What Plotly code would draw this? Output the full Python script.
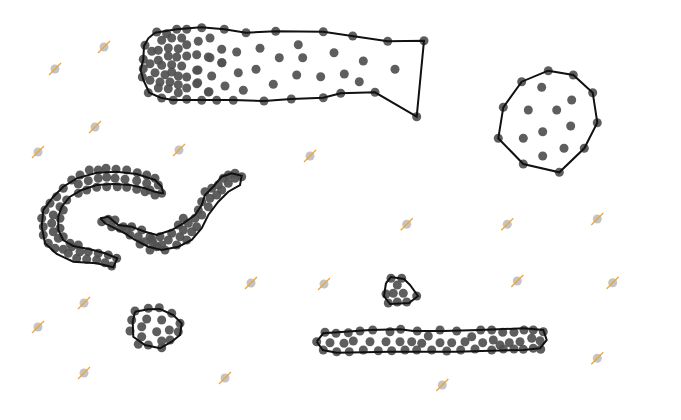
import plotly.graph_objects as go

# ---- data (pixel-like coordinate space: x 0..681, y 0..420 downwards) ----
a_x = [156.7,166.7,176.7,186.7,201.7,224.3,161.7,171.7,181.7,186.7,198.3,210,145,151.7,158.3,168.3,178.3,
       168.3,176.7,186.7,196.7,208.3,221.7,236.7,143.3,150,158.3,161.7,171.7,181.7,221.7,143.3,155,165,171.7,
       178.3,186.7,196.7,211.7,238.3,142.3,150,160,170,178.3,196.7,225,148.3,158.3,168.3,178.3,186.7,208.3,
       161.7,173.3,186.7,201.7,216.7,233.3,243.3,
       298.3,260,279.3,302.7,334,363.3,395,256,296.7,320.7,344.3,359.3,273.3,
       246,275.7,323.3,352.7,387.7,424,416.7,375,340.7,323.3,291.3,264,197.7,209,222,198,210]
a_y = [32,33.7,29.3,29.3,27.7,29.3,40.3,38,38,44.7,41.3,38,45.3,51.3,50.3,48,48.7,
       56,57,56,54.7,57,49.3,52,59.3,63.7,60.3,65.3,64.7,66,62.7,68.7,72.7,74.7,72,
       76,77,70.3,76,72.7,77,80.3,82,82,84.7,83.7,86,92.7,88,88.7,92.7,88,92,
       98,100.3,99.3,100.3,100.3,100.3,90.3,
       44.7,48.3,57.7,57.7,52.7,61,69.3,69.3,75,76.7,74,81.7,84.3,
       32.7,31.3,31.7,36,41.3,40.7,116.7,92.3,93.3,97.7,99,101,82.7,91.7,62.7,70,57.7]
a_hx = [155,176.7,201,224.3,246,275.7,323.3,352.7,387.7,424,416.7,375,340.7,323.3,291.3,264,233.3,201,172.7,
        160.7,149.3,143.3,140.7,143.3,144,148.3,155]
a_hy = [32.7,29.3,27.3,29.3,32.7,31.3,31.7,36,41.3,40.7,116.7,92.3,93.3,97.7,99,101,100,100,100,
        97.7,92.7,80,70,59.3,46,38.3,32.7]

b_x = [548.3,573.3,592.7,597.3,584.3,559.3,523.3,498.3,503.3,521.7,541.7,571.7,528.3,556.7,570.7,542.7,523.3,564,542.7]
b_y = [70.7,75,92.7,122.7,148.3,172.3,164,138.3,107.3,81.7,87.3,100,110,110,126,131.7,138.3,148.3,156]
b_hx = [548.3,573.3,592.7,597.3,584.3,559.3,523.3,498.3,503.3,521.7,548.3]
b_hy = [70.7,75,92.7,122.7,148.3,172.3,164,138.3,107.3,81.7,70.7]

c_x = [80,89.3,98.3,106,116,126.7,137.3,146.7,155,158.3,161.7,155,
       71.7,78.3,88.3,98.3,106.7,115,125,136.7,146.7,150,
       78.3,86.7,96.7,106.7,117.3,126.7,136.7,145,
       63.3,56.7,50,45,41.7,43.3,43.3,48.3,
       66.7,60,53.3,51.7,53.3,58.3,63.3,60,60,63.3,
       55,63.3,71.7,68.3,80,88.3,98.3,108.3,116.7,111.7,105,96.7,86.7,76.7,70,78.3]
c_y = [175,170,170,168.3,169.3,170,172.7,175,178.3,185,193.3,195,
       180,184,180.7,178.3,177.3,178.3,179.3,180.7,183.3,190,
       193.3,190,187.3,186.7,186.7,187.3,189.3,191.7,
       188.3,196.7,203.3,210,218.3,226.7,235,243.3,
       200,206.7,215,223.3,231.7,238.3,210,218.3,228.3,236.7,
       248.3,249.3,246.7,253.3,251.7,251.7,253.3,255,258.3,266,262.7,260,259.3,258.3,243.3,245]
c_hx = [161.7,155,145,130,113.3,96.7,81.7,70,61.7,58.3,58.3,63.3,73.3,90,105,117.3,
        113.3,96.7,73.3,56.7,45,41.7,43.3,53.3,63.3,76.7,96.7,116.7,136.7,155,161.7,163.3,161.7]
c_hy = [193.3,191.7,188.3,185,184,185,190,196.7,206.7,216.7,230,240,246,249.3,253.3,258.3,
        267.3,263.3,261.7,254,243.3,226.7,210,196.7,186.7,178.3,172.7,171.7,174,180,186.7,193.3,193.3]

d_x = [101.7,108.3,115,111.7,120,126.7,130,138.3,145,151.7,156.7,150,
       123.3,131.7,141.7,150,153.3,160,161.7,168.3,171.7,176.7,180,183.3,186.7,188.3,191.7,195,196.7,
       198.3,201.7,201.7,205,210,208.3,211.7,216.7,218.3,223.3,221.7,228.3,228.3,235,241.7,235,
       183.3,178.3,165,140]
d_y = [221.7,219.3,220,226.7,228.3,230,235,236.7,241.7,239.3,246.7,250,
       226.7,226.7,230,236.7,243.3,236.7,245,240,233.3,245,236.7,230,240,223.3,231.7,218.3,226.7,
       210,215,201.7,191.7,198.3,206.7,188.3,195,185,178.3,190,175,183.3,178.3,176.7,173.3,
       218.3,225,250,244]
d_hx = [100.3,108.3,118.3,131.7,145,156.7,171.7,183.3,195,201.7,205,213.3,221.7,231.7,241.7,
        240,228.3,218.3,208.3,201.7,191.7,178.3,161.7,148.3,135,125,115,105,100.3]
d_hy = [218.3,216.7,225,226.7,231.7,235,230,223.3,215,205,195,186.7,176.7,173.3,175.7,
        185,191.7,201.7,215,228.3,240,246.7,250,246.7,240,233.3,228.3,223.3,218.3]

e_x = [135,148.3,159.3,171.7,180,178.3,170,161.7,148.3,138.3,130,131.7,146.7,161.7,141.7,156.7,169.3,141.7,161.7]
e_y = [311,308.3,307.7,313.3,323.3,331.7,340,347.7,345,344.3,331,320,319,320,326.7,331.7,330,336.7,341]
e_hx = [135,148.3,160,173.3,181.7,180,171.7,160,145,133.3,132.7,135]
e_hy = [311.7,309.3,309,315,323.3,335,341.7,348.3,345,336.7,321.7,311.7]

f_x = [391,401.7,397.3,386,393.3,403.3,416.7,388.3,397.3,406.7]
f_y = [278.3,278.3,285,294,293.3,293.3,296,303,302,302]
f_hx = [386,391,404,410,418,409,390,384,386]
f_hy = [283,277,279,285,296,303,304,296,283]

g_x = [325,336,348.3,360,372.7,390,400.7,417.3,440,456.7,480.7,491.7,502.7,514,524,533.3,543.3,
       316.7,330,344,353.3,370,386,400,411.7,421.7,428.3,440,451.7,465,471.7,482.7,493.3,500,509.3,520,531.7,540,540.7,
       323.3,336.7,349.3,363.3,378.3,391.7,405,416.7,431.7,446.7,460.7,475,491.7,503.3,514,523.3,533.3]
g_y = [332.3,333.3,332.7,331,330,331.7,329.3,331,330,331,330,330,332.3,332.3,330,330,331.7,
       341.7,342.7,343.3,341,341.7,341.7,341.7,341.7,343.3,336,342.7,342.7,341.7,336.7,342.7,340,345,342.7,341.7,338.3,340.7,349.3,
       350,351.7,351.7,350,350.7,350.7,350,350,350,351,350,349,350,349,349,349.3,348.3]
g_hx = [316.7,323.3,370,400,413.3,443.3,480,523.3,543.3,546.7,540,523.3,490,456.7,390,336.7,322.7,316.7]
g_hy = [341.7,333.3,330,329.3,331,331,330,328.3,330,340,348.3,350,350.7,351.7,351.7,352.7,350,341.7]

noise_x = [55,104,95,38,179,310,406.7,507.3,597.3,251,324,517.3,612.7,84,38,84,225,442.3,597.3]
noise_y = [69,47,127,152,150,156,224.3,224.3,219,283,284,281,282.7,303,327,373,378,385,358.3]

clusters = [(a_x, a_y, a_hx, a_hy), (b_x, b_y, b_hx, b_hy), (c_x, c_y, c_hx, c_hy),
            (d_x, d_y, d_hx, d_hy), (e_x, e_y, e_hx, e_hy), (f_x, f_y, f_hx, f_hy),
            (g_x, g_y, g_hx, g_hy)]

fig = go.Figure()

fig.add_trace(go.Scatter(x=noise_x, y=noise_y, mode="markers", hoverinfo="skip",
                         marker=dict(size=9, color="#c4c4c4", line=dict(width=0))))
fig.add_trace(go.Scatter(x=noise_x, y=noise_y, mode="markers", hoverinfo="skip",
                         marker=dict(symbol="line-ne", size=12,
                                     line=dict(width=1.3, color="#f0a431"))))

for px, py, hx, hy in clusters:
    fig.add_trace(go.Scatter(x=px, y=py, mode="markers", hoverinfo="skip",
                             marker=dict(size=9, color="rgba(80,80,80,0.92)", line=dict(width=0))))
for px, py, hx, hy in clusters:
    fig.add_trace(go.Scatter(x=hx, y=hy, mode="lines", hoverinfo="skip",
                             line=dict(color="#111111", width=2)))

fig.update_layout(
    width=681, height=420, showlegend=False,
    margin=dict(l=0, r=0, t=0, b=0),
    paper_bgcolor="white", plot_bgcolor="white",
    xaxis=dict(range=[0, 681], visible=False, fixedrange=True),
    yaxis=dict(range=[420, 0], visible=False, fixedrange=True),
)

fig.write_html("out.html", config={"displayModeBar": False},
               post_script="document.body.style.margin='0';document.body.style.overflow='hidden';")
